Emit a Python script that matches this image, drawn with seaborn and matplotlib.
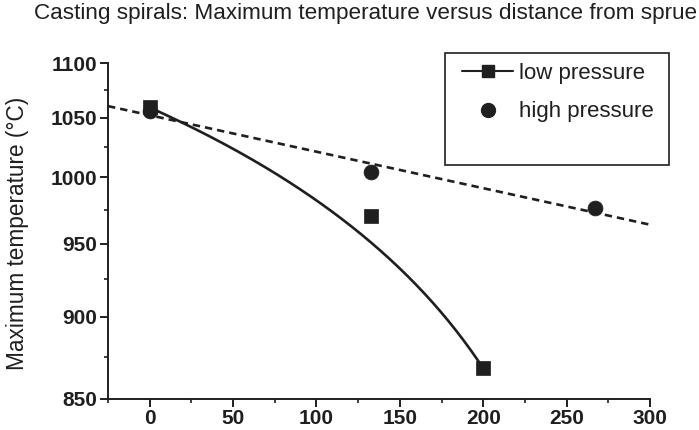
import numpy as np
import matplotlib
matplotlib.use("Agg")
import matplotlib.pyplot as plt
from matplotlib.lines import Line2D
from matplotlib.patches import Rectangle
from matplotlib.ticker import MultipleLocator
import seaborn as sns

# distance from sprue (mm) and maximum temperature (deg C)
lo_x = [0, 133, 200]
lo_T = [1059, 970, 868]
hi_x = [0, 133, 267]
hi_T = [1056, 1004, 976]

x_ticks = [0, 50, 100, 150, 200, 250, 300]
y_ticks = [850, 900, 950, 1000, 1050, 1100]

INK = "#1f1f1f"

sns.set_style("ticks")
plt.rcParams["font.family"] = ["Liberation Sans", "DejaVu Sans"]

fig = plt.figure(figsize=(6.99, 4.30), dpi=100)
ax = fig.add_axes([108 / 699, 1 - 399 / 430, 542 / 699, 335.7 / 430])

# low pressure: B-spline (quadratic Bezier) through the three points
t = np.linspace(0, 1, 200)
bx = (1 - t) ** 2 * lo_x[0] + 2 * t * (1 - t) * lo_x[1] + t ** 2 * lo_x[2]
by = (1 - t) ** 2 * lo_T[0] + 2 * t * (1 - t) * lo_T[1] + t ** 2 * lo_T[2]
sns.lineplot(x=bx, y=by, ax=ax, color=INK, lw=1.9, estimator=None, sort=False)
sns.scatterplot(x=lo_x, y=lo_T, ax=ax, marker="s", s=88, color=INK,
                edgecolor=INK, linewidth=0.5, zorder=5)

# high pressure: linear fit on the reciprocal axis
coef = np.polyfit(hi_x, 1.0 / np.array(hi_T), 1)
fx = np.linspace(-25, 300, 100)
fy = 1.0 / np.polyval(coef, fx)
sns.lineplot(x=fx, y=fy, ax=ax, color=INK, lw=1.9, estimator=None,
             dashes=False, linestyle=(0, (2.8, 1.9)))
sns.scatterplot(x=hi_x, y=hi_T, ax=ax, marker="o", s=115, color=INK,
                edgecolor=INK, linewidth=0.5, zorder=5)

# reciprocal y axis
ax.set_yscale("function", functions=(lambda y: -1.0 / y, lambda u: -1.0 / u))
ax.set_ylim(850, 1100)
ax.set_xlim(-25, 300)
ax.set_yticks(y_ticks)
ax.set_yticklabels([str(v) for v in y_ticks])
ax.yaxis.set_minor_locator(MultipleLocator(25))
ax.set_xticks(x_ticks)
ax.set_xticklabels([str(v) for v in x_ticks])
ax.xaxis.set_minor_locator(MultipleLocator(25))

sns.despine(ax=ax)
for sp in ["left", "bottom"]:
    ax.spines[sp].set_color(INK)
    ax.spines[sp].set_linewidth(1.4)
ax.tick_params(which="major", direction="out", length=5.5, width=1.4,
               color=INK, labelsize=15, labelcolor=INK, pad=2)
ax.tick_params(which="minor", direction="out", length=3, width=1.2, color=INK)
for lab in ax.get_xticklabels() + ax.get_yticklabels():
    lab.set_fontweight("bold")
ax.set_xlabel("")
ax.set_ylabel("")

fig.text(366 / 699, 1 - 14 / 430,
         "Casting spirals: Maximum temperature versus distance from sprue",
         ha="center", va="center", fontsize=16.2, color=INK)
fig.text(18 / 699, 1 - 233 / 430, "Maximum temperature (\u00b0C)",
         rotation=90, ha="center", va="center", fontsize=16.3, color=INK)

# legend
fig.patches.append(Rectangle((445 / 699, 1 - 165 / 430), 224 / 699, 112 / 430,
                             transform=fig.transFigure, fill=False,
                             edgecolor=INK, linewidth=1.2))
handles = [
    Line2D([], [], color=INK, lw=1.5, marker="s", markersize=8.4),
    Line2D([], [], color=INK, lw=0, marker="o", markersize=10),
]
fig.legend(handles, ["low pressure", "high pressure"], loc="upper left",
           bbox_to_anchor=(462 / 699, 1 - 63 / 430), frameon=False,
           fontsize=16, handlelength=2.3, handletextpad=0.25,
           labelspacing=0.78, borderpad=0, borderaxespad=0,
           labelcolor=INK)

fig.savefig("out.png", dpi=100, facecolor="white")
